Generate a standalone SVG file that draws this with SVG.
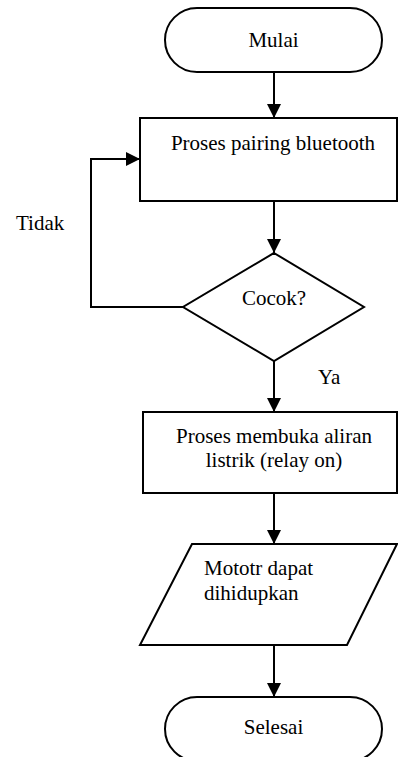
<svg xmlns="http://www.w3.org/2000/svg" width="398" height="757" viewBox="0 0 398 757">
<style>
.s{fill:#fff;stroke:#000;stroke-width:2}
.c{fill:none;stroke:#000;stroke-width:2}
text{font-family:"Liberation Serif","Times New Roman",serif;font-size:21px;fill:#000}
.m{text-anchor:middle}
</style>
<defs>
<marker id="ah" markerUnits="userSpaceOnUse" markerWidth="14" markerHeight="14" refX="14" refY="7" orient="auto">
<path d="M0,0 L14,7 L0,14 Z" fill="#000"/>
</marker>
</defs>
<rect width="398" height="757" fill="#fff"/>
<g id="connectors">
<line class="c" x1="274" y1="72" x2="274" y2="118" marker-end="url(#ah)"/>
<line class="c" x1="274" y1="201" x2="274" y2="253" marker-end="url(#ah)"/>
<polyline class="c" points="183,307 91,307 91,159 140,159" marker-end="url(#ah)"/>
<line class="c" x1="274" y1="361" x2="274" y2="412" marker-end="url(#ah)"/>
<line class="c" x1="274" y1="493" x2="274" y2="544" marker-end="url(#ah)"/>
<line class="c" x1="274" y1="645" x2="274" y2="697" marker-end="url(#ah)"/>
<text x="16" y="230">Tidak</text>
<text x="318" y="384">Ya</text>
</g>
<g id="mulai">
<rect class="s" x="165" y="8" width="217" height="64" rx="32" ry="32"/>
<text class="m" x="273.5" y="47">Mulai</text>
</g>
<g id="pairing">
<rect class="s" x="140" y="118" width="257" height="83"/>
<text class="m" x="273" y="150">Proses pairing bluetooth</text>
</g>
<g id="cocok">
<polygon class="s" points="274,253 364,307 274,361 183,307"/>
<text class="m" x="274" y="305">Cocok?</text>
</g>
<g id="relay">
<rect class="s" x="143" y="412" width="254" height="81"/>
<text class="m" x="274" y="443">Proses membuka aliran</text>
<text class="m" x="274" y="467">listrik (relay on)</text>
</g>
<g id="motor">
<polygon class="s" points="192,544 397,544 347,645 140,645"/>
<text x="204" y="575">Mototr dapat</text>
<text x="204" y="600">dihidupkan</text>
</g>
<g id="selesai">
<rect class="s" x="165" y="697" width="217" height="64" rx="32" ry="32"/>
<text class="m" x="273.5" y="734">Selesai</text>
</g>
</svg>
